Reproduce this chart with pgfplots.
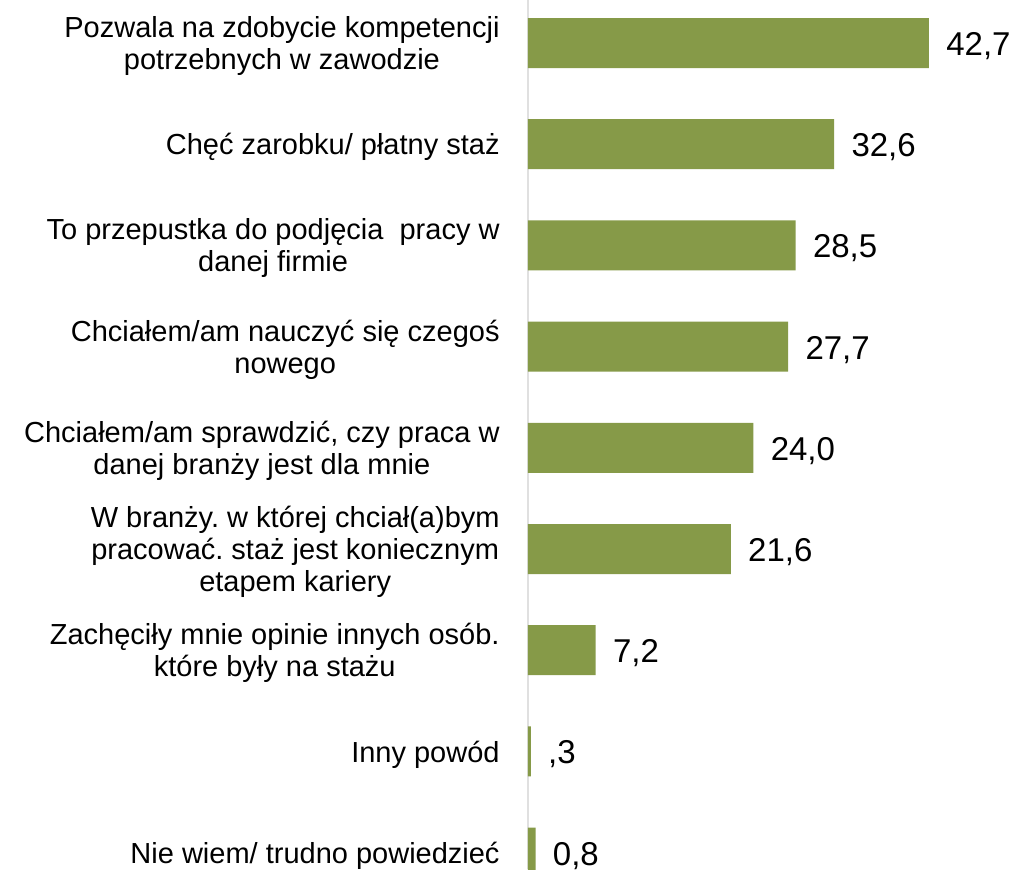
\documentclass[border=0pt]{standalone}
\usepackage{fontspec}
\setmainfont{Liberation Sans}
\usepackage{pgfplots}
\pgfplotsset{compat=1.18}
\usepackage{pgfplotstable}
\usetikzlibrary{calc}
\definecolor{barolive}{RGB}{134,154,72}

\pgfplotstableread{
pos val lab
0 42.7 42,7
1 32.6 32,6
2 28.5 28,5
3 27.7 27,7
4 24.0 24,0
5 21.6 21,6
6 7.2 7,2
7 0.3 ,3
8 0.8 0,8
}\reasons

\begin{document}
\frenchspacing
\begin{tikzpicture}
\begin{axis}[
    name=ax,
    scale only axis,
    width=242.5pt, height=434.5pt,
    xbar, bar width=25pt,
    xmin=0, xmax=51.65,
    ymin=-0.425, ymax=8.162,
    y dir=reverse,
    axis x line=none,
    axis y line*=left,
    y axis line style={-, draw=black!12, line width=1pt},
    ytick={0,...,8},
    yticklabels={
        {Pozwala na zdobycie kompetencji\\potrzebnych w zawodzie},
        {Chęć zarobku/ płatny staż},
        {To przepustka do podjęcia\ \ pracy w\\danej firmie},
        {Chciałem/am nauczyć się czegoś\\nowego},
        {Chciałem/am sprawdzić, czy praca w\\danej branży jest dla mnie},
        {W branży. w której chciał(a)bym\\pracować. staż jest koniecznym\\etapem kariery},
        {Zachęciły mnie opinie innych osób.\\które były na stażu},
        {Inny powód},
        {Nie wiem/ trudno powiedzieć}},
    major tick length=0pt,
    yticklabel style={align=center, inner sep=0pt, xshift=-14pt, yshift=-1.5pt,
        font=\fontsize{14.5}{16}\selectfont\frenchspacing},
    nodes near coords,
    point meta=explicit symbolic,
    every node near coord/.append style={font=\fontsize{16.5}{20}\selectfont,
        anchor=west, inner sep=0pt, xshift=8.5pt, yshift=-1.5pt, text=black},
]
\addplot[draw=none, fill=barolive] table[x=val, y=pos, meta=lab]{\reasons};
\end{axis}
\pgfresetboundingbox
\path[use as bounding box] ($(ax.south west)+(-264pt,0)$) rectangle (ax.north east);
\end{tikzpicture}
\end{document}
